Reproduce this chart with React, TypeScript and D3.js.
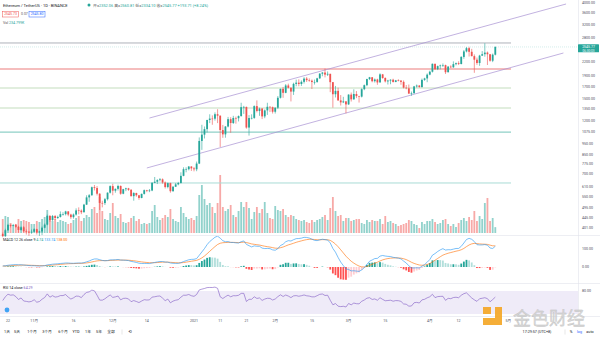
import React from "react";
import * as d3 from "d3";

const W = 600;
const H = 338;

// ---------- DATA ----------
const warmupCloses = [354, 346, 347, 352, 353, 341, 341, 351, 365, 370, 375, 387, 381, 379, 377, 366, 368, 377, 379];
const firstDay = [2020, 9, 20];
const firstOpen = 379;
const closes = [
  // Oct 20-31
  369, 392, 414, 410, 413, 406, 393, 404, 388, 386, 383, 386,
  // Nov
  396, 383, 387, 402, 415, 454, 435, 453, 444, 449, 462, 462, 475, 460, 448, 460, 480, 479, 471, 509, 548, 560, 608, 603, 569, 518, 517, 538, 575, 615,
  // Dec
  587, 598, 616, 569, 596, 601, 592, 555, 573, 560, 545, 568, 590, 586, 588, 636, 643, 654, 659, 638, 609, 634, 584, 611, 626, 635, 683, 731, 731, 751, 737,
  // Jan
  730, 774, 975, 1040, 1100, 1208, 1225, 1224, 1281, 1262, 1090, 1043, 1130, 1218, 1171, 1233, 1230, 1257, 1377, 1380, 1118, 1232, 1234, 1391, 1324, 1357, 1253, 1332, 1382, 1376, 1314,
  // Feb
  1369, 1515, 1660, 1594, 1718, 1677, 1614, 1746, 1768, 1744, 1783, 1843, 1814, 1804, 1779, 1781, 1848, 1937, 1960, 1919, 1935, 1777, 1571, 1626, 1475, 1446, 1460, 1416,
  // Mar
  1565, 1491, 1575, 1541, 1533, 1654, 1723, 1834, 1868, 1795, 1826, 1772, 1924, 1854, 1791, 1806, 1822, 1781, 1810, 1806, 1782, 1680, 1669, 1582, 1587, 1701, 1716, 1691, 1819, 1846, 1919,
  // Apr 1-26
  1977, 2143, 2028, 2093, 2108, 2115, 1967, 2082, 2068, 2136, 2157, 2139, 2299, 2432, 2514, 2423, 2318, 2235, 2161, 2330, 2364, 2403, 2363, 2212, 2352.06, 2545.77,
];
const highs = [
  383, 398, 418, 416, 418, 418, 410, 408, 409, 395, 388, 395,
  400, 398, 390, 407, 420, 460, 457, 458, 458, 455, 475, 471, 478, 476, 464, 465, 490, 495, 485, 513, 560, 567, 612, 622, 615, 572, 530, 545, 577, 620,
  630, 600, 624, 619, 598, 605, 604, 597, 578, 575, 562, 570, 594, 592, 597, 640, 675, 660, 668, 665, 645, 638, 637, 615, 635, 642, 708, 745, 745, 755, 754,
  748, 790, 1011, 1150, 1130, 1210, 1280, 1266, 1305, 1348, 1265, 1148, 1135, 1246, 1243, 1260, 1250, 1265, 1440, 1395, 1385, 1270, 1280, 1402, 1475, 1370, 1365, 1345, 1440, 1390, 1385,
  1372, 1542, 1664, 1692, 1742, 1750, 1690, 1767, 1824, 1829, 1810, 1870, 1872, 1847, 1826, 1825, 1858, 1950, 1970, 2041, 1982, 1936, 1780, 1710, 1680, 1558, 1530, 1466,
  1570, 1599, 1652, 1622, 1546, 1669, 1735, 1840, 1875, 1870, 1845, 1840, 1945, 1932, 1868, 1820, 1830, 1840, 1818, 1830, 1812, 1809, 1726, 1735, 1615, 1710, 1735, 1725, 1843, 1859, 1943,
  1998, 2150, 2145, 2105, 2126, 2150, 2125, 2095, 2110, 2197, 2171, 2199, 2318, 2468, 2544, 2550, 2497, 2360, 2284, 2349, 2440, 2644, 2430, 2370, 2380, 2560.81,
];
const lows = [
  365, 366, 389, 403, 408, 402, 382, 390, 383, 375, 370, 378,
  384, 375, 370, 373, 400, 412, 427, 431, 435, 440, 446, 455, 456, 452, 440, 441, 455, 461, 462, 470, 507, 524, 558, 588, 559, 482, 495, 507, 531, 570,
  560, 575, 588, 563, 566, 584, 586, 553, 530, 552, 535, 543, 564, 578, 578, 584, 634, 628, 645, 630, 600, 601, 575, 580, 610, 620, 631, 680, 708, 722, 718,
  715, 716, 770, 890, 1000, 1063, 1170, 1150, 1200, 1170, 917, 1007, 1008, 1120, 1060, 1160, 1163, 1190, 1250, 1285, 1105, 1030, 1215, 1222, 1305, 1260, 1219, 1230, 1272, 1310, 1290,
  1290, 1350, 1504, 1515, 1587, 1666, 1460, 1560, 1703, 1704, 1710, 1752, 1780, 1785, 1657, 1734, 1765, 1835, 1887, 1866, 1892, 1605, 1370, 1520, 1470, 1400, 1435, 1293,
  1409, 1458, 1485, 1510, 1443, 1520, 1637, 1705, 1815, 1775, 1770, 1730, 1770, 1840, 1771, 1735, 1740, 1770, 1775, 1792, 1730, 1666, 1652, 1575, 1546, 1583, 1680, 1678, 1680, 1801, 1776,
  1906, 1960, 2015, 2010, 2025, 2075, 1932, 1962, 2050, 2057, 2110, 2116, 2130, 2255, 2408, 2308, 2312, 1955, 2121, 2100, 2320, 2305, 2117, 2190, 2180, 2334.10,
];
// volume, thousands of ETH
const volumes = [
  560, 680, 640, 400, 320, 360, 560, 480, 520, 480, 440, 360,
  360, 480, 440, 560, 640, 920, 680, 480, 560, 440, 520, 480, 440, 360, 400, 520, 600, 680, 480, 600, 720, 640, 960, 1040, 800, 1440, 880, 560, 520, 800,
  1200, 680, 600, 760, 440, 400, 440, 600, 680, 480, 560, 360, 400, 360, 400, 880, 1120, 640, 520, 600, 720, 640, 960, 560, 480, 440, 1040, 800, 640, 560, 600,
  520, 680, 1520, 1920, 1360, 1120, 1200, 1040, 800, 1200, 2320, 1040, 880, 960, 1120, 720, 640, 880, 1240, 1040, 1240, 1000, 560, 840, 1040, 800, 960, 1240, 800, 600, 560,
  1080, 920, 880, 960, 720, 640, 720, 680, 560, 520, 480, 520, 440, 400, 520, 440, 520, 560, 640, 720, 520, 1000, 1440, 880, 680, 720, 480, 600,
  600, 480, 520, 560, 560, 400, 360, 520, 440, 520, 480, 480, 560, 360, 680, 440, 480, 400, 360, 280, 320, 360, 400, 520, 480, 360, 320, 200, 440, 360, 480,
  480, 560, 440, 360, 400, 520, 560, 360, 280, 360, 240, 400, 520, 600, 480, 640, 520, 880, 480, 680, 560, 1200, 1400, 480, 600, 234.799,
];

const levelPrices = [2651, 2033, 1674, 1365, 1068, 635];
const levelEndDate = "2021-05-02";
const upperChannelDates = ["2020-12-15", "2021-05-23"];
const upperChannelPrices = [1232, 3946];
const lowerChannelDates = ["2020-12-14", "2021-05-22"];
const lowerChannelPrices = [740, 2393];

const priceTicks = [4000, 3600, 3200, 2800, 2200, 1900, 1700, 1500, 1350, 1200, 1075, 950, 850, 775, 700, 610, 550, 495, 445, 401];
const macdTicks = [100, 0];
const rsiTicks = [80];
const rsiBand = [80, 20];

const timeTickDates = ["2020-10-22", "2020-11-01", "2020-11-16", "2020-12-01", "2020-12-14", "2021-01-01", "2021-01-11", "2021-01-21", "2021-02-01", "2021-02-15", "2021-03-01", "2021-03-15", "2021-04-01", "2021-04-12", "2021-05-01"];
const timeTickLabels = ["22", "11月", "16", "12月", "14", "2021", "11", "21", "2月", "15", "3月", "15", "4月", "12", "5月"];

const toolbarLabels = ["1天", "5天", "1个月", "3个月", "6个月", "YTD", "1年", "5年", "全部"];

// ---------- STYLE ----------
const UP = "#26a69a";
const DOWN = "#ef5350";
const FONT = "Roboto, 'Noto Sans CJK SC', 'DejaVu Sans', sans-serif";
const AXIS_TXT = "#4c525e";
const levelColors = ["#aeb1b9", "#f5bdbd", "#bcd9b6", "#bcd9b6", "#8fd0c7", "#a9dcd5"];
const levelWidths = [1, 2, 0.9, 0.9, 1.3, 1];

// ---------- INDICATORS ----------
function ema(arr: number[], n: number) {
  const k = 2 / (n + 1);
  const out: number[] = [];
  let prev = arr[0];
  arr.forEach((v, i) => {
    prev = i === 0 ? v : v * k + prev * (1 - k);
    out.push(prev);
  });
  return out;
}
function rsiCalc(arr: number[], n = 14) {
  const out: (number | null)[] = arr.map(() => null);
  let g = 0, l = 0;
  for (let i = 1; i <= n; i++) {
    const d = arr[i] - arr[i - 1];
    g += Math.max(d, 0);
    l += Math.max(-d, 0);
  }
  let ag = g / n, al = l / n;
  out[n] = 100 - 100 / (1 + ag / al);
  for (let i = n + 1; i < arr.length; i++) {
    const d = arr[i] - arr[i - 1];
    ag = (ag * (n - 1) + Math.max(d, 0)) / n;
    al = (al * (n - 1) + Math.max(-d, 0)) / n;
    out[i] = 100 - 100 / (1 + ag / al);
  }
  return out;
}

const parse = (s: string) => {
  const [y, m, d] = s.split("-").map(Number);
  return new Date(Date.UTC(y, m - 1, d));
};

export default function App() {
  const dates = closes.map((_, i) => new Date(Date.UTC(firstDay[0], firstDay[1], firstDay[2] + i)));
  const opens = closes.map((_, i) => (i === 0 ? firstOpen : closes[i - 1]));
  const all = warmupCloses.concat(closes);
  const e12 = ema(all, 12);
  const e26 = ema(all, 26);
  const macdAll = all.map((_, i) => e12[i] - e26[i]);
  const sigAll = ema(macdAll, 9);
  const off = warmupCloses.length;
  const macd = macdAll.slice(off);
  const signal = sigAll.slice(off);
  const hist = macd.map((m, i) => m - signal[i]);
  const histPrev = macdAll.map((m, i) => m - sigAll[i]).slice(off - 1);
  const rsi = rsiCalc(all).slice(off);

  const x = d3.scaleUtc()
    .domain([new Date(Date.UTC(2021, 0, 1)), new Date(Date.UTC(2021, 3, 26))])
    .range([194, 194 + 115 * 2.62]);
  const y = d3.scaleLog().domain([3600, 401]).range([13, 228]);
  const yVol = d3.scaleLinear().domain([0, 2320]).range([233, 175]);
  const yMacd = d3.scaleLinear().domain([0, 100]).range([267, 249]);
  const yRsi = d3.scaleLinear().domain([20, 80]).range([314, 291]);

  const bw = 1.8;
  const plotRight = 578;
  const lastClose = closes[closes.length - 1];
  const lastOpen = opens[opens.length - 1];
  const chg = lastClose - closes[closes.length - 2];

  const macdLine = d3.line<number>().x((_, i) => x(dates[i])).y((d) => yMacd(d));
  const rsiLine = d3.line<number | null>()
    .defined((d) => d !== null)
    .x((_, i) => x(dates[i]))
    .y((d) => yRsi(d as number));
  const chanLine = d3.line<[Date, number]>().x((d) => x(d[0])).y((d) => y(d[1]));

  const toolbarX = [7, 17, 32, 47, 63, 76, 88, 99, 111];

  return (
    <svg width={W} height={H} style={{ display: "block", position: "absolute", left: 0, top: 0, background: "#fff" }} fontFamily={FONT}>
      <defs>
        <clipPath id="macdClip"><rect x={0} y={236} width={plotRight} height={47} /></clipPath>
        <clipPath id="rsiClip"><rect x={0} y={284} width={plotRight} height={32} /></clipPath>
      </defs>
      <rect width={W} height={H} fill="#fff" />

      {/* pane separators */}
      <line x1={plotRight + 0.5} x2={plotRight + 0.5} y1={0} y2={316} stroke="#e0e3eb" strokeWidth={0.6} />
      <line x1={0} x2={W} y1={235.5} y2={235.5} stroke="#e0e3eb" strokeWidth={0.6} />
      <line x1={0} x2={W} y1={283.5} y2={283.5} stroke="#e0e3eb" strokeWidth={0.6} />
      <line x1={0} x2={W} y1={316.5} y2={316.5} stroke="#e0e3eb" strokeWidth={0.6} />

      {/* volume */}
      <g>
        {volumes.map((v, i) => (
          <rect key={i} x={x(dates[i]) - bw / 2} y={yVol(v)} width={bw} height={yVol(0) - yVol(v)}
            fill={closes[i] >= opens[i] ? "rgba(38,166,154,0.5)" : "rgba(239,83,80,0.5)"} />
        ))}
      </g>

      {/* horizontal levels */}
      {levelPrices.map((p, i) => (
        <line key={i} x1={0} x2={x(parse(levelEndDate))} y1={y(p)} y2={y(p)} stroke={levelColors[i]} strokeWidth={levelWidths[i]} />
      ))}
      {/* last price line */}
      <line x1={0} x2={plotRight} y1={y(lastClose)} y2={y(lastClose)} stroke="#b9e2dd" strokeWidth={0.6} strokeDasharray="1,1" />

      {/* channel */}
      <path d={chanLine(upperChannelDates.map((d, i) => [parse(d), upperChannelPrices[i]] as [Date, number])) || ""} stroke="#a891d2" strokeWidth={0.7} fill="none" />
      <path d={chanLine(lowerChannelDates.map((d, i) => [parse(d), lowerChannelPrices[i]] as [Date, number])) || ""} stroke="#a891d2" strokeWidth={0.7} fill="none" />

      {/* candles */}
      <g>
        {closes.map((c, i) => {
          const o = opens[i];
          const col = c >= o ? UP : DOWN;
          const cx = x(dates[i]);
          const top = y(Math.max(o, c));
          const bot = y(Math.min(o, c));
          return (
            <g key={i}>
              <line x1={cx} x2={cx} y1={y(highs[i])} y2={y(lows[i])} stroke={col} strokeWidth={0.6} />
              <rect x={cx - bw / 2} y={top} width={bw} height={Math.max(0.6, bot - top)} fill={col} />
            </g>
          );
        })}
      </g>

      {/* price axis */}
      {priceTicks.map((p, i) => (
        <text key={i} x={582} y={y(p)} dy="0.35em" fontSize={3.6} fill={AXIS_TXT}>{p.toFixed(2)}</text>
      ))}
      <rect x={plotRight} y={y(lastClose) - 2.6} width={21} height={8} fill={UP} rx={0.6} />
      <text x={588.5} y={y(lastClose)} dy="0.35em" fontSize={3.5} fill="#fff" textAnchor="middle">{lastClose.toFixed(2)}</text>
      <text x={588.5} y={y(lastClose) + 3.6} dy="0.35em" fontSize={3.1} fill="#fff" textAnchor="middle">06:30:03</text>

      {/* header */}
      <text x={3} y={6.5} fontSize={4} fill="#131722">Ethereum / TetherUS · 1D · BINANCE</text>
      <circle cx={89} cy={5} r={1.5} fill={UP} />
      <text x={93} y={6.5} fontSize={3.9} fill={UP}>
        <tspan fill="#555">开=</tspan>{lastOpen.toFixed(2)}
        <tspan fill="#555"> 高=</tspan>{highs[highs.length - 1].toFixed(2)}
        <tspan fill="#555"> 低=</tspan>{lows[lows.length - 1].toFixed(2)}
        <tspan fill="#555"> 收=</tspan>{lastClose.toFixed(2)}
        {` +${chg.toFixed(2)} (+${((chg / closes[closes.length - 2]) * 100).toFixed(2)}%)`}
      </text>
      <rect x={2.5} y={11.5} width={16} height={5.5} fill="#fff" stroke={DOWN} strokeWidth={0.5} />
      <text x={10.5} y={14.25} dy="0.35em" fontSize={3.5} fill={DOWN} textAnchor="middle">2545.73</text>
      <text x={21} y={14.25} dy="0.35em" fontSize={3.5} fill="#555">0.07</text>
      <rect x={29} y={11.5} width={16} height={5.5} fill="#fff" stroke="#2962ff" strokeWidth={0.5} />
      <text x={37} y={14.25} dy="0.35em" fontSize={3.5} fill="#2962ff" textAnchor="middle">2545.80</text>
      <text x={3} y={24} fontSize={3.6} fill="#555">Vol <tspan fill={UP}>{volumes[volumes.length - 1].toFixed(3)}K</tspan></text>

      {/* MACD */}
      <text x={3} y={240.5} fontSize={3.6} fill="#131722">MACD 12 26 close 9 <tspan fill={UP}> 4.74</tspan><tspan fill="#2196f3">  133.74</tspan><tspan fill="#ff6d00">  138.00</tspan></text>
      <g clipPath="url(#macdClip)">
        {hist.map((h, i) => {
          const prev = histPrev[i];
          const col = h >= 0 ? (h >= prev ? "#26a69a" : "#b2dfdb") : (h >= prev ? "#ffcdd2" : "#ff5252");
          return <rect key={i} x={x(dates[i]) - bw / 2} y={Math.min(yMacd(h), yMacd(0))} width={bw} height={Math.abs(yMacd(h) - yMacd(0))} fill={col} />;
        })}
        <path d={macdLine(signal) || ""} stroke="#ff6d00" strokeWidth={0.6} fill="none" />
        <path d={macdLine(macd) || ""} stroke="#2196f3" strokeWidth={0.6} fill="none" />
      </g>
      {macdTicks.map((t, i) => (
        <text key={i} x={582} y={yMacd(t)} dy="0.35em" fontSize={3.6} fill={AXIS_TXT}>{t.toFixed(2)}</text>
      ))}

      {/* RSI */}
      <rect x={0} y={yRsi(rsiBand[0])} width={plotRight} height={yRsi(rsiBand[1]) - yRsi(rsiBand[0])} fill="rgba(126,87,194,0.12)" />
      <text x={3} y={289} fontSize={3.6} fill="#131722">RSI 14 close <tspan fill="#7e57c2">64.29</tspan></text>
      <g clipPath="url(#rsiClip)">
        <path d={rsiLine(rsi) || ""} stroke="#7e57c2" strokeWidth={0.6} fill="none" />
      </g>
      {rsiTicks.map((t, i) => (
        <text key={i} x={582} y={yRsi(t)} dy="0.35em" fontSize={3.6} fill={AXIS_TXT}>{t.toFixed(2)}</text>
      ))}
      <circle cx={7} cy={310} r={2.4} fill="#2196f3" opacity={0.85} />

      {/* time axis */}
      {timeTickDates.map((d, i) => (
        <text key={i} x={x(parse(d))} y={321} dy="0.35em" fontSize={3.6} fill={AXIS_TXT} textAnchor="middle">{timeTickLabels[i]}</text>
      ))}

      {/* toolbar */}
      {toolbarLabels.map((t, i) => (
        <text key={i} x={toolbarX[i]} y={332} dy="0.35em" fontSize={3.8} fill="#131722" textAnchor="middle">{t}</text>
      ))}
      <line x1={122} x2={122} y1={329.5} y2={334.5} stroke="#ccc" strokeWidth={0.5} />
      <text x={130} y={332} dy="0.35em" fontSize={4.2} fill="#131722" textAnchor="middle">⟲</text>
      <text x={537} y={332} dy="0.35em" fontSize={3.7} fill="#131722" textAnchor="middle">17:29:57 (UTC+8)</text>
      <line x1={565} x2={565} y1={329.5} y2={334.5} stroke="#ccc" strokeWidth={0.5} />
      <text x={571} y={332} dy="0.35em" fontSize={3.7} fill="#131722" textAnchor="middle">%</text>
      <text x={579.5} y={332} dy="0.35em" fontSize={3.7} fill="#2962ff" textAnchor="middle">log</text>
      <text x={590} y={332} dy="0.35em" fontSize={3.7} fill="#131722" textAnchor="middle">auto</text>

      {/* watermark */}
      <g opacity={0.9}>
        <rect x={483} y={307} width={8} height={7} fill="#f5a623" />
        <rect x={495} y={307} width={7} height={18} fill="#f5a623" />
        <rect x={483} y={318} width={19} height={7} fill="#f5a623" />
        <text x={513} y={325} fontSize={18} fill="#d4d4d4" stroke="#b8b8b8" strokeWidth={0.3} fontFamily="'Noto Sans CJK SC', sans-serif">金色财经</text>
      </g>
    </svg>
  );
}
